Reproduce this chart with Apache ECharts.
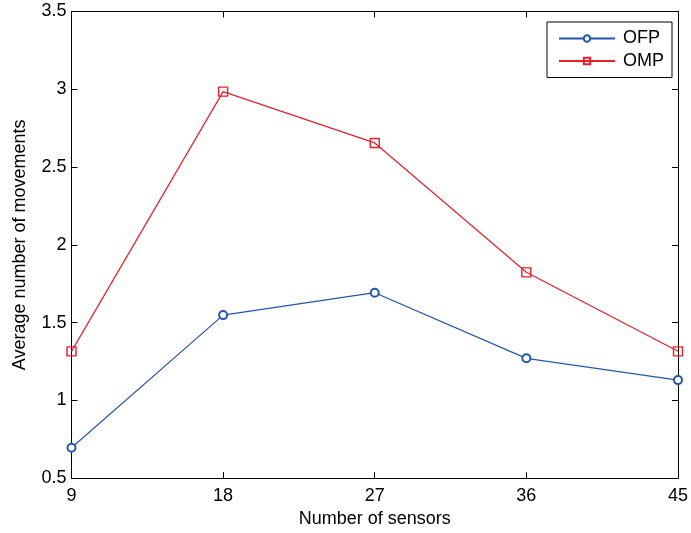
<!DOCTYPE html>
<html><head><meta charset="utf-8">
<script src="https://cdn.jsdelivr.net/npm/echarts@6/dist/echarts.min.js"></script>
<style>html,body{margin:0;padding:0;background:#fff}#c{width:691px;height:533px}</style>
</head><body><div id="c"></div>
<script>
const sensors = [9, 18, 27, 36, 45];
const ofp = [0.695, 1.548, 1.692, 1.27, 1.13];
const omp = [1.315, 2.985, 2.655, 1.823, 1.315];
const font = 'Liberation Sans, Arial, sans-serif';
const chart = echarts.init(document.getElementById('c'));
const axisCommon = {
  axisLine: {show: true, lineStyle: {color: '#000', width: 1}},
  axisTick: {show: true, inside: true, length: 6, lineStyle: {color: '#000'}},
  splitLine: {show: false}
};
chart.setOption({
  animation: false,
  grid: {left: 71.5, right: 12, top: 11.5, bottom: 50},
  legend: {
    orient: 'vertical', left: 547, top: 22,
    padding: [7.5, 8, 7.5, 11], itemGap: 4.5,
    itemWidth: 56, itemHeight: 8,
    borderColor: '#000', borderWidth: 1, backgroundColor: '#fff',
    textStyle: {fontFamily: font, fontSize: 18, color: '#000', padding: [0, 0, 0, 3]},
    data: ['OFP', 'OMP']
  },
  xAxis: [
    Object.assign({type: 'value', min: 9, max: 45, interval: 9, position: 'bottom',
      name: 'Number of sensors', nameLocation: 'middle', nameGap: 30,
      nameTextStyle: {fontFamily: font, fontSize: 18, color: '#000'},
      axisLabel: {fontFamily: font, fontSize: 18, color: '#000', margin: 9}}, axisCommon),
    Object.assign({type: 'value', min: 9, max: 45, interval: 9, position: 'top',
      axisLabel: {show: false}}, axisCommon)
  ],
  yAxis: [
    Object.assign({type: 'value', min: 0.5, max: 3.5, interval: 0.5, position: 'left',
      name: 'Average number of movements', nameLocation: 'middle', nameGap: 42,
      nameTextStyle: {fontFamily: font, fontSize: 18, color: '#000'},
      axisLabel: {fontFamily: font, fontSize: 18, color: '#000', margin: 5, padding: [6, 0, 0, 0],
        formatter: v => String(+v.toFixed(1))}}, axisCommon),
    Object.assign({type: 'value', min: 0.5, max: 3.5, interval: 0.5, position: 'right',
      axisLabel: {show: false}}, axisCommon)
  ],
  series: [
    {name: 'OFP', type: 'line', data: sensors.map((s, i) => [s, ofp[i]]),
      symbol: 'emptyCircle', symbolSize: 8,
      lineStyle: {color: '#2456ac', width: 1.2}, itemStyle: {color: '#2456ac', borderWidth: 1.2}},
    {name: 'OMP', type: 'line', data: sensors.map((s, i) => [s, omp[i]]),
      symbol: 'rect', symbolSize: 9,
      lineStyle: {color: '#e8202a', width: 1.2},
      itemStyle: {color: 'rgba(255,255,255,0)', borderColor: '#e8202a', borderWidth: 1.4}}
  ]
});
</script></body></html>
